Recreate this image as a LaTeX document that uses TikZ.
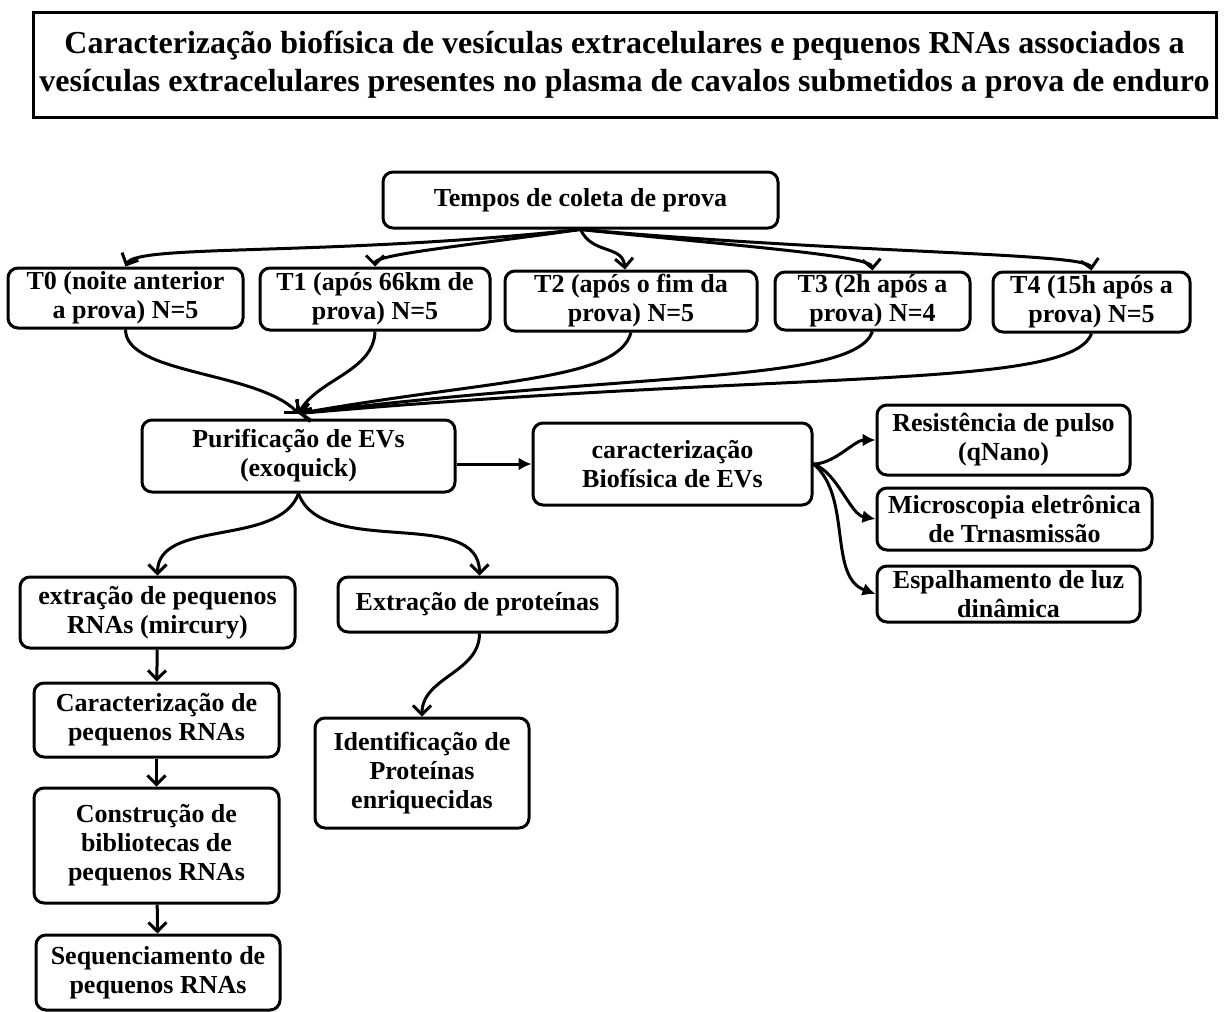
\documentclass[tikz,border=0pt]{standalone}
\usepackage{fontspec}
\setmainfont{Liberation Serif}
\usetikzlibrary{arrows.meta}

\tikzset{
  caixa/.style={draw, line width=3pt, rounded corners=10pt, align=center, inner sep=2pt,
    font=\fontsize{26}{29}\selectfont\bfseries},
  seta/.style={line width=3pt, -{Straight Barb[length=9pt,width=18pt,line width=3pt]}},
  setacheia/.style={line width=3pt, -{Latex[length=13pt,width=13pt]}}
}

\begin{document}
\begin{tikzpicture}[x=1pt,y=-1pt]
\useasboundingbox (0,0) rectangle (1227,1012);
% titulo
\node[draw, line width=3pt, inner sep=0pt, minimum width=1183pt, minimum height=105pt, align=center,
  font=\fontsize{32}{38}\selectfont\bfseries] (titulo) at (624.5,64.5)
  {Caracterização biofísica de vesículas extracelulares e pequenos RNAs associados a\\
   vesículas extracelulares presentes no plasma de cavalos submetidos a prova de enduro};

% tempos
\node[caixa, minimum width=395pt, minimum height=56pt] (tempos) at (580.5,200) {Tempos de coleta de prova};
\node[caixa, minimum width=235pt, minimum height=60pt] (t0) at (125.5,298) {T0 (noite anterior\\a prova) N=5};
\node[caixa, minimum width=230pt, minimum height=62pt] (t1) at (375,299) {T1 (após 66km de\\prova) N=5};
\node[caixa, minimum width=252pt, minimum height=60pt] (t2) at (631,301) {T2 (após o fim da\\prova) N=5};
\node[caixa, minimum width=195pt, minimum height=58pt] (t3) at (872.5,301) {T3 (2h após a\\prova) N=4};
\node[caixa, minimum width=197pt, minimum height=60pt] (t4) at (1091.5,302) {T4 (15h após a\\prova) N=5};

% purificacao e caracterizacao
\node[caixa, minimum width=313pt, minimum height=72pt] (purif) at (298.5,456) {Purificação de EVs\\(exoquick)};
\node[caixa, minimum width=279pt, minimum height=82pt] (caract) at (672.5,464) {caracterização\\Biofísica de EVs};
\node[caixa, minimum width=253pt, minimum height=70pt] (resist) at (1003.5,440) {Resistência de pulso\\(qNano)};
\node[caixa, minimum width=275pt, minimum height=62pt] (micro) at (1014.5,519) {Microscopia eletrônica\\de Trnasmissão};
\node[caixa, minimum width=263pt, minimum height=56pt] (espalh) at (1008.5,594) {Espalhamento de luz\\dinâmica};

% RNAs
\node[caixa, minimum width=275pt, minimum height=71pt] (extrna) at (157.5,612.5) {extração de pequenos\\RNAs (mircury)};
\node[caixa, minimum width=245pt, minimum height=74pt] (caracrna) at (156.5,720) {Caracterização de\\pequenos RNAs};
\node[caixa, minimum width=245pt, minimum height=115pt] (constr) at (156.5,845.5) {Construção de\\bibliotecas de\\pequenos RNAs};
\node[caixa, minimum width=244pt, minimum height=75pt] (seq) at (158,972.5) {Sequenciamento de\\pequenos RNAs};

% proteinas
\node[caixa, minimum width=279pt, minimum height=55pt] (prot) at (477.5,604.5) {Extração de proteínas};
\node[caixa, minimum width=214pt, minimum height=110pt] (ident) at (422,773) {Identificação de\\Proteínas\\enriquecidas};

% setas de tempos
\draw[seta] (tempos.south) to[out=186,in=65,out distance=260pt,in distance=25pt] (t0.north);
\draw[seta] (tempos.south) to[out=188,in=90,out distance=120pt,in distance=12pt] (t1.north);
\draw[seta] (tempos.south) to[out=-65,in=95,out distance=28pt,in distance=25pt] ([xshift=-6pt]t2.north);
\draw[seta] (tempos.south) to[out=-6,in=95,out distance=160pt,in distance=15pt] (t3.north);
\draw[seta] (tempos.south) to[out=-5,in=100,out distance=280pt,in distance=18pt] (t4.north);

% setas para purificacao
\coordinate (junta) at ([yshift=5pt]purif.north);
\draw[seta] (t0.south) to[out=-90,in=135,out distance=45pt,in distance=60pt] (junta);
\draw[seta] (t1.south) to[out=-92,in=60,out distance=40pt,in distance=40pt] (junta);
\draw[seta] (t2.south) to[out=-105,in=10,out distance=50pt,in distance=200pt] (junta);
\draw[seta] (t3.south) to[out=-110,in=7,out distance=55pt,in distance=350pt] (junta);
\draw[seta] (t4.south) to[out=-110,in=5,out distance=60pt,in distance=500pt] (junta);

% caracterizacao biofisica
\draw[setacheia] (purif.east |- caract.west) -- (caract.west);
\draw[setacheia] (caract.east) to[out=0,in=180,looseness=0.8] (resist.west);
\draw[setacheia] (caract.east) to[out=-20,in=170,looseness=0.8] (micro.west);
\draw[setacheia] (caract.east) to[out=-40,in=160,looseness=0.9] (espalh.west);

% ramos
\draw[seta] (purif.south) to[out=-110,in=90,looseness=0.9] (extrna.north);
\draw[seta] (purif.south) to[out=-70,in=90,looseness=0.9] ([xshift=2pt]prot.north);
\draw[seta] (extrna) -- (caracrna);
\draw[seta] (caracrna) -- (constr);
\draw[seta] (constr) -- (seq);
\draw[seta] ([xshift=2pt]prot.south) to[out=-90,in=90,looseness=1] (ident.north);
\end{tikzpicture}
\end{document}
